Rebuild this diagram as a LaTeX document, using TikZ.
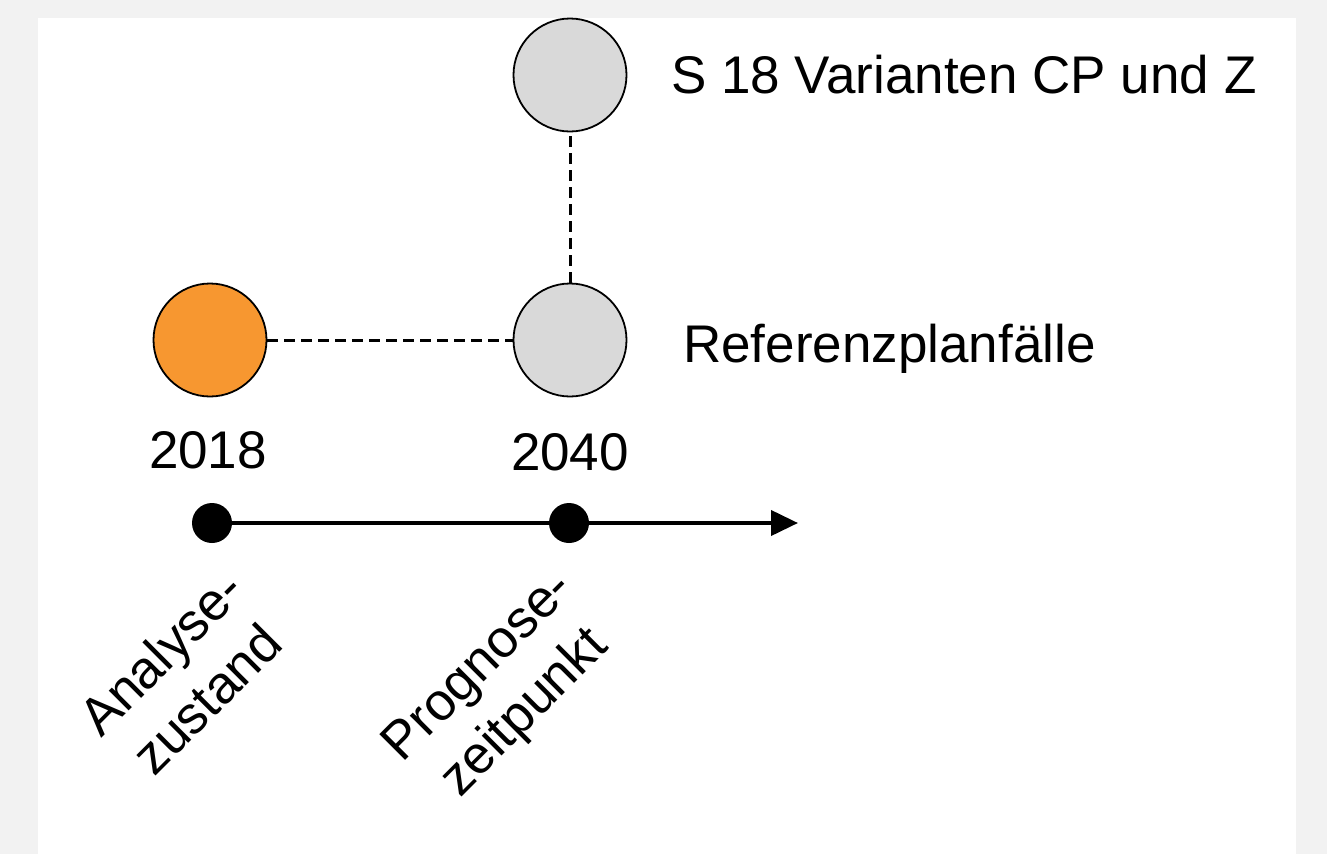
\documentclass[tikz,border=0pt]{standalone}
\usepackage{fontspec}
\setmainfont{Liberation Sans}
\usetikzlibrary{arrows.meta}
\definecolor{framegray}{RGB}{242,242,242}
\definecolor{stateorange}{RGB}{247,151,48}
\definecolor{casegray}{RGB}{217,217,217}

\begin{document}
\begin{tikzpicture}[
    x=1pt, y=-1pt,
    state/.style={circle, draw=black, line width=1.8pt, minimum size=113pt, inner sep=0pt},
    dot/.style={circle, fill=black, minimum size=40pt, inner sep=0pt},
    txt/.style={font=\fontsize{53}{65}\selectfont, inner sep=0pt},
    link/.style={line width=3pt, dash pattern=on 11pt off 6pt},
    axis/.style={-{Triangle[length=27pt, width=25pt]}, line width=4pt}
]
% frame
\fill[framegray] (0,0) rectangle (1327,854);
\fill[white] (38,18) rectangle (1296,854);
\useasboundingbox (0,0) rectangle (1327,854);

\node[state, fill=stateorange] (ana) at (210,340) {};
\node[state, fill=casegray] (ref) at (570,340) {};
\node[state, fill=casegray] (var) at (570,75) {};

\draw[link] (ana) -- (ref);
\draw[link] (ref) -- (var);

\node[txt, anchor=base west] (vartxt) at (671,93) {S 18 Varianten CP und Z};
\node[txt, anchor=base west] (reftxt) at (683,362) {Referenzplanfälle};
\node[txt, anchor=base] (y18) at (208,468) {2018};
\node[txt, anchor=base] (y40) at (570,470) {2040};

% time axis
\node[dot] (t18) at (212,523) {};
\node[dot] (t40) at (569,523) {};
\coordinate (tend) at (798,523);
\draw[axis] (t18) -- (tend);

\node[txt, rotate=45, align=center, anchor=base] (anatxt) at (220,712) {Analyse-\\zustand};
\node[txt, rotate=45, align=center, anchor=base] (protxt) at (535,723) {Prognose-\\zeitpunkt};
\end{tikzpicture}
\end{document}
